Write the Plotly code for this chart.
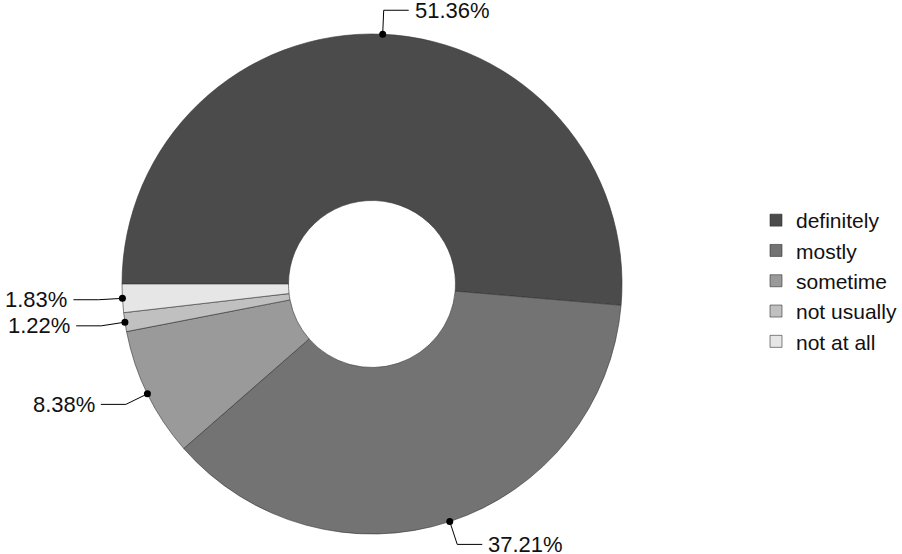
import math
import plotly.graph_objects as go

# ---- data ----
categories = ["definitely", "mostly", "sometime", "not usually", "not at all"]
percentages = [51.36, 37.21, 8.38, 1.22, 1.83]
colors = ["#4b4b4b", "#737373", "#9a9a9a", "#c0c0c0", "#e6e6e6"]

# ---- geometry (pixels) ----
W, H = 902, 554
CX, CY, R = 372, 284, 250
HOLE = 0.334
RADIAL_EXT = 24
HORIZ_LEN = 25
TEXT_GAP = 4
FONT = "Liberation Sans, Arial, Helvetica, sans-serif"


def px(x):
    return x / W


def py(y):
    return 1 - y / H


fig = go.Figure()
fig.add_trace(go.Pie(
    labels=categories,
    values=percentages,
    marker=dict(colors=colors, line=dict(color="#333333", width=0.6)),
    hole=HOLE,
    sort=False,
    direction="clockwise",
    rotation=-90,
    textinfo="none",
    hoverinfo="label+percent",
    domain=dict(x=[px(CX - R), px(CX + R)], y=[py(CY + R), py(CY - R)]),
))

shapes = []
annotations = []
total = sum(percentages)
cum = 0.0
for cat, v in zip(categories, percentages):
    mid = (cum + v / 2) / total * 360.0  # clockwise from 9 o'clock
    cum += v
    std = math.radians(180.0 - mid)  # standard math angle
    dx, dy = math.cos(std), -math.sin(std)  # screen coords
    x0, y0 = CX + R * dx, CY + R * dy
    x1, y1 = CX + (R + RADIAL_EXT) * dx, CY + (R + RADIAL_EXT) * dy
    side = 1 if dx >= 0 else -1
    x2 = x1 + side * HORIZ_LEN
    shapes.append(dict(
        type="path", xref="paper", yref="paper",
        path=f"M {px(x0)} {py(y0)} L {px(x1)} {py(y1)} L {px(x2)} {py(y1)}",
        line=dict(color="black", width=1),
    ))
    rr = 3.5
    shapes.append(dict(
        type="circle", xref="paper", yref="paper",
        x0=px(x0 - rr), x1=px(x0 + rr), y0=py(y0 + rr), y1=py(y0 - rr),
        fillcolor="black", line=dict(color="black", width=0),
    ))
    annotations.append(dict(
        xref="paper", yref="paper",
        x=px(x2 + side * TEXT_GAP), y=py(y1),
        xanchor="left" if side > 0 else "right", yanchor="middle",
        text=f"{v:.2f}%", showarrow=False,
        font=dict(family=FONT, size=22, color="#111111"),
    ))

fig.update_layout(
    width=W, height=H,
    margin=dict(l=0, r=0, t=0, b=0, autoexpand=False),
    paper_bgcolor="white", plot_bgcolor="white",
    shapes=shapes, annotations=annotations,
    showlegend=True,
    legend=dict(
        x=px(756), y=py(281), xanchor="left", yanchor="middle",
        font=dict(family=FONT, size=21, color="#111111"),
        bgcolor="rgba(0,0,0,0)", traceorder="normal",
    ),
)

fig.write_html(
    "out.html",
    config={"displayModeBar": False},
    post_script="document.body.style.margin='0';document.body.style.overflow='hidden';",
)
